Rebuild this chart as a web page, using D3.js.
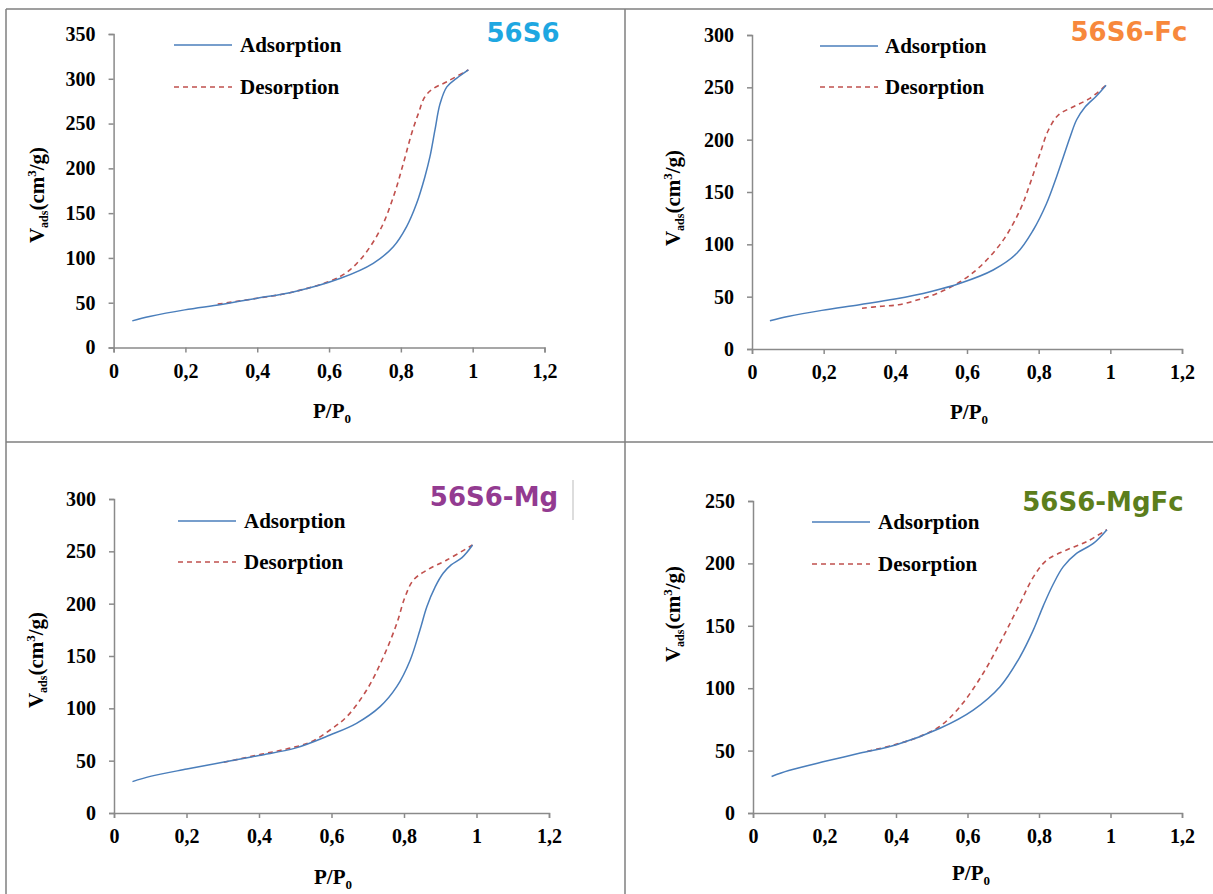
<!DOCTYPE html>
<html><head><meta charset="utf-8">
<script src="https://cdn.jsdelivr.net/npm/d3@7"></script>
<style>html,body{margin:0;padding:0;background:#fff;}</style>
</head><body>
<svg id="c" width="1213" height="894"></svg>
<script>
// ---------- DATA ----------
const xTicks = [0, 0.2, 0.4, 0.6, 0.8, 1, 1.2];
const xTickLabels = ["0", "0,2", "0,4", "0,6", "0,8", "1", "1,2"];
const samples = ["56S6", "56S6-Fc", "56S6-Mg", "56S6-MgFc"];
const yMaxes = [350, 300, 300, 250];
const seriesNames = ["Adsorption", "Desorption"];

// 56S6
const ads56S6P = [0.052,0.1,0.198,0.3,0.4,0.5,0.63,0.723,0.779,0.816,0.844,0.867,0.881,0.895,0.909,0.928,0.955,0.988];
const ads56S6V = [29.7,34.5,42,48,55,62,77,94,112.5,135,161,190.7,213,243,272,291,300.5,310];
const des56S6P = [0.29,0.4,0.5,0.63,0.686,0.742,0.779,0.807,0.83,0.849,0.867,0.89,0.928,0.988];
const des56S6V = [48.4,55,62,79,97.7,131,168,205.6,239,261.5,280,289,296.7,310];

// 56S6-Fc
const ads56S6FcP = [0.05,0.1,0.195,0.3,0.399,0.5,0.581,0.673,0.739,0.785,0.822,0.85,0.869,0.888,0.906,0.929,0.962,0.988];
const ads56S6FcV = [27,31,36.9,42.3,47.7,55,62.8,75.5,91.4,113.7,139,164.6,183.7,202.8,219,231,242,252];
const des56S6FcP = [0.307,0.356,0.409,0.463,0.516,0.581,0.636,0.701,0.748,0.776,0.804,0.827,0.855,0.897,0.943,0.988];
const des56S6FcV = [39,40.7,42.3,47,53,64.3,78.6,104,132.8,158,187,209,223.6,231.5,239.5,252];

// 56S6-Mg
const ads56S6MgP = [0.051,0.1,0.201,0.3,0.4,0.5,0.596,0.669,0.734,0.78,0.817,0.844,0.863,0.886,0.908,0.93,0.96,0.989];
const ads56S6MgV = [30,35,42,48.4,55,62,74.5,85.7,101.6,120.7,146,174.8,197,216,229,237,244,256];
const des56S6MgP = [0.303,0.405,0.48,0.544,0.596,0.642,0.697,0.743,0.78,0.803,0.826,0.863,0.918,0.989];
const des56S6MgV = [48.4,56,61.5,68,79.3,92,117.5,149,181,206.6,222.6,232,241.7,256];

// 56S6-MgFc
const ads56S6MgFcP = [0.052,0.1,0.202,0.3,0.401,0.523,0.616,0.691,0.747,0.784,0.812,0.84,0.868,0.905,0.952,0.99];
const ads56S6MgFcV = [29.3,34,41.4,48,54.7,67.9,82.5,101.2,125.2,146.5,166,183.5,197.4,208,216,227];
const des56S6MgFcP = [0.32,0.396,0.46,0.523,0.579,0.644,0.7,0.747,0.784,0.822,0.877,0.933,0.99];
const des56S6MgFcV = [49.4,54.7,60.5,69.5,85.2,112,141.3,168,189,202.7,210.7,217.4,227];

const adsP = [ads56S6P, ads56S6FcP, ads56S6MgP, ads56S6MgFcP];
const adsV = [ads56S6V, ads56S6FcV, ads56S6MgV, ads56S6MgFcV];
const desP = [des56S6P, des56S6FcP, des56S6MgP, des56S6MgFcP];
const desV = [des56S6V, des56S6FcV, des56S6MgV, des56S6MgFcV];

// ---------- LAYOUT ----------
const layout = [
  {x0:113.6, x1:544.5, yTop:34, yBot:347.5, legX:174, legTX:240, legY:[45,87], titleX:523, titleY:33, titleColor:"#1ea7e1", ytX:37, ytY:195, xtX:332, xtY:411},
  {x0:752, x1:1182, yTop:35, yBot:349, legX:820, legTX:885, legY:[46,87], titleX:1129, titleY:32, titleColor:"#f7883c", ytX:673, ytY:198, xtX:969, xtY:412},
  {x0:114, x1:549, yTop:499, yBot:813, legX:178, legTX:244, legY:[521,562], titleX:494, titleY:497, titleColor:"#933b91", ytX:36, ytY:660, xtX:333, xtY:877},
  {x0:753, x1:1182, yTop:501, yBot:813, legX:812, legTX:878, legY:[522,564], titleX:1103, titleY:502, titleColor:"#5c7e1c", ytX:673, ytY:614, xtX:971, xtY:873}
];

const svg = d3.select("#c");
const serif = "'Liberation Serif','Times New Roman',serif";
const axisColor = "#8a8a8a";
const adsColor = "#4a7ebb";
const desColor = "#c0504d";

// frame lines
const frame = svg.append("g").attr("stroke", "#7f7f7f").attr("stroke-width", 1.5);
frame.append("line").attr("x1", 6).attr("x2", 6).attr("y1", 9).attr("y2", 894);
frame.append("line").attr("x1", 6).attr("x2", 1213).attr("y1", 9).attr("y2", 9);
frame.append("line").attr("x1", 625).attr("x2", 625).attr("y1", 9).attr("y2", 894);
frame.append("line").attr("x1", 6).attr("x2", 1213).attr("y1", 442).attr("y2", 442);

samples.forEach((name, i) => {
  const L = layout[i];
  const x = d3.scaleLinear().domain([0, 1.2]).range([L.x0, L.x1]);
  const y = d3.scaleLinear().domain([0, yMaxes[i]]).range([L.yBot, L.yTop]);
  const g = svg.append("g");

  // x axis
  const xa = g.append("g").attr("transform", `translate(0,${L.yBot})`)
    .call(d3.axisBottom(x).tickValues(xTicks).tickFormat((d, k) => xTickLabels[k]).tickSizeOuter(0).tickSize(5).tickPadding(11));
  // y axis
  const yTicks = d3.range(0, yMaxes[i] + 1, 50);
  const ya = g.append("g").attr("transform", `translate(${L.x0},0)`)
    .call(d3.axisLeft(y).tickValues(yTicks).tickSizeOuter(0).tickSize(5).tickPadding(13));
  [xa, ya].forEach(a => {
    a.select(".domain").attr("stroke", axisColor).attr("stroke-width", 1.5);
    a.selectAll(".tick line").attr("stroke", axisColor).attr("stroke-width", 1.5);
    a.selectAll(".tick text").attr("fill", "#000").attr("font-family", serif)
      .attr("font-weight", "bold").attr("font-size", 20);
  });

  // curves
  const line = d3.line().x(d => x(d[0])).y(d => y(d[1])).curve(d3.curveCatmullRom.alpha(0.5));
  const dData = desP[i].map((p, k) => [p, desV[i][k]]);
  const aData = adsP[i].map((p, k) => [p, adsV[i][k]]);
  g.append("path").attr("d", line(dData)).attr("fill", "none").attr("stroke", desColor)
    .attr("stroke-width", 1.6).attr("stroke-dasharray", "5,4");
  g.append("path").attr("d", line(aData)).attr("fill", "none").attr("stroke", adsColor)
    .attr("stroke-width", 1.5);

  // legend
  seriesNames.forEach((s, k) => {
    const ly = L.legY[k];
    const ln = g.append("line").attr("x1", L.legX).attr("x2", L.legX + 58).attr("y1", ly).attr("y2", ly)
      .attr("stroke", k === 0 ? adsColor : desColor).attr("stroke-width", k === 0 ? 1.5 : 1.6);
    if (k === 1) ln.attr("stroke-dasharray", "5,4");
    g.append("text").attr("x", L.legTX).attr("y", ly + 7).text(s)
      .attr("font-family", serif).attr("font-weight", "bold").attr("font-size", 21).attr("fill", "#000");
  });

  // title
  g.append("text").attr("x", L.titleX).attr("y", L.titleY + 9).attr("text-anchor", "middle")
    .attr("font-family", "'DejaVu Sans',Verdana,sans-serif").attr("font-weight", "bold")
    .attr("font-size", 26).attr("fill", L.titleColor).text(name);

  // x title
  const xt = g.append("text").attr("x", L.xtX).attr("y", L.xtY + 7).attr("text-anchor", "middle")
    .attr("font-family", serif).attr("font-weight", "bold").attr("font-size", 21).attr("fill", "#000");
  xt.append("tspan").text("P/P");
  xt.append("tspan").text("0").attr("font-size", 13).attr("dy", 5);

  // y title
  const yt = g.append("text").attr("transform", `translate(${L.ytX + 7},${L.ytY}) rotate(-90)`)
    .attr("text-anchor", "middle")
    .attr("font-family", serif).attr("font-weight", "bold").attr("font-size", 21).attr("fill", "#000");
  yt.append("tspan").text("V");
  yt.append("tspan").text("ads").attr("font-size", 12).attr("dy", 4);
  yt.append("tspan").text("(cm").attr("dy", -4);
  yt.append("tspan").text("3").attr("font-size", 13).attr("dy", -8);
  yt.append("tspan").text("/g)").attr("dy", 8);
});

// small cursor-like mark next to the third title
svg.append("line").attr("x1", 573).attr("x2", 573).attr("y1", 480).attr("y2", 520)
  .attr("stroke", "#bbbbbb").attr("stroke-width", 1);
</script>
</body></html>
